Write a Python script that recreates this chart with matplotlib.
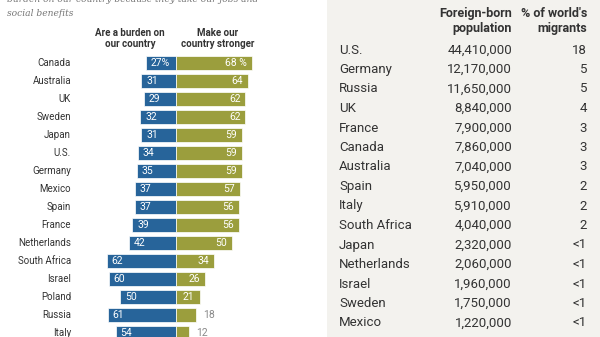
import matplotlib
matplotlib.use("Agg")
import matplotlib.pyplot as plt

# Opinions sur les immigrés (%) — pays triés comme dans la publication
countries = ["Canada", "Australia", "UK", "Sweden", "Japan", "U.S.", "Germany",
             "Mexico", "Spain", "France", "Netherlands", "South Africa",
             "Israel", "Poland", "Russia", "Italy"]
burden = [27, 31, 29, 32, 31, 34, 35, 37, 37, 39, 42, 62, 60, 50, 61, 54]
stronger = [68, 64, 62, 62, 59, 59, 59, 57, 56, 56, 50, 34, 26, 21, 18, 12]

# Population née à l'étranger
tab_countries = ["U.S.", "Germany", "Russia", "UK", "France", "Canada",
                 "Australia", "Spain", "Italy", "South Africa", "Japan",
                 "Netherlands", "Israel", "Sweden", "Mexico"]
foreign_born = [44410000, 12170000, 11650000, 8840000, 7900000, 7860000,
                7040000, 5950000, 5910000, 4040000, 2320000, 2060000,
                1960000, 1750000, 1220000]
share = ["18", "5", "5", "4", "3", "3", "3", "2", "2", "2",
         "<1", "<1", "<1", "<1", "<1"]

BLUE = "#27649a"
OLIVE = "#9b9e3d"
DARK = "#333333"
GREY = "#8a8a8a"
PANEL = "#f3f2ee"
SANS = "Roboto"

W, H = 600, 337
fig = plt.figure(figsize=(W / 100, H / 100), dpi=100)
fig.patch.set_facecolor("white")

# --- partie gauche : barres divergentes ---
split = 327
ax = fig.add_axes([0, 0, split / W, 1])
px = 1.12          # pixels par point de pourcentage
x0 = 176           # position de l'axe zéro (pixels)
ax.set_xlim(-x0 / px, (split - x0) / px)
ax.set_ylim((H - 63) / 18, -63 / 18)
ax.axis("off")

rows = range(len(countries))
ax.barh(rows, [-b for b in burden], height=0.78, color=BLUE,
        edgecolor="white", linewidth=0.5)
ax.barh(rows, stronger, height=0.78, color=OLIVE,
        edgecolor="white", linewidth=0.5)

pad = 5 / px
for i, (c, b, s) in enumerate(zip(countries, burden, stronger)):
    ax.text((71 - x0) / px, i, c, ha="right", va="center",
            fontsize=7, color=DARK, family=SANS)
    lb = f"{b}%" if i == 0 else str(b)
    ax.text(-b + pad, i, lb, ha="left", va="center",
            fontsize=7.5, color="white", family=SANS)
    ls = f"{s} %" if i == 0 else str(s)
    if s >= 20:
        ax.text(s - pad, i, ls, ha="right", va="center",
                fontsize=7.5, color="white", family=SANS)
    else:
        ax.text(s + 7 / px, i, ls, ha="left", va="center",
                fontsize=7.5, color=GREY, family=SANS)

ax.text((130 - x0) / px, -1.37, "Are a burden on\nour country", ha="center",
        va="center", fontsize=7, fontweight="bold", color=DARK,
        family=SANS, linespacing=1.15)
ax.text((218 - x0) / px, -1.37, "Make our\ncountry stronger", ha="center",
        va="center", fontsize=7, fontweight="bold", color=DARK,
        family=SANS, linespacing=1.15)

# note en italique (la première ligne déborde en haut)
fig.text(7 / W, 1 + 1 / H,
         "burden on our country because they take our jobs and",
         ha="left", va="center", fontsize=6.6, style="italic",
         color="#777777", family="DejaVu Serif")
fig.text(7 / W, 1 - 13 / H, "social benefits",
         ha="left", va="center", fontsize=6.6, style="italic",
         color="#777777", family="DejaVu Serif")

# --- partie droite : tableau ---
ax2 = fig.add_axes([split / W, 0, 1 - split / W, 1])
ax2.set_facecolor(PANEL)
ax2.set_xlim(split, W)
ax2.set_ylim(H, 0)
ax2.set_xticks([])
ax2.set_yticks([])
for sp in ax2.spines.values():
    sp.set_visible(False)

ax2.text(512, 21, "Foreign-born\npopulation", ha="right", va="center",
         fontsize=9, fontweight="bold", color=DARK, family=SANS,
         linespacing=1.2)
ax2.text(587, 21, "% of world's\nmigrants", ha="right", va="center",
         fontsize=9, fontweight="bold", color=DARK, family=SANS,
         linespacing=1.2)

for i, (c, n, p) in enumerate(zip(tab_countries, foreign_born, share)):
    y = 50 + 19.5 * i
    ax2.text(339, y, c, ha="left", va="center", fontsize=9.5,
             color=DARK, family=SANS)
    ax2.text(512, y, f"{n:,}", ha="right", va="center", fontsize=9.5,
             color=DARK, family=SANS)
    ax2.text(587, y, p, ha="right", va="center", fontsize=9.5,
             color=DARK, family=SANS)

fig.savefig("out.png", dpi=100)
